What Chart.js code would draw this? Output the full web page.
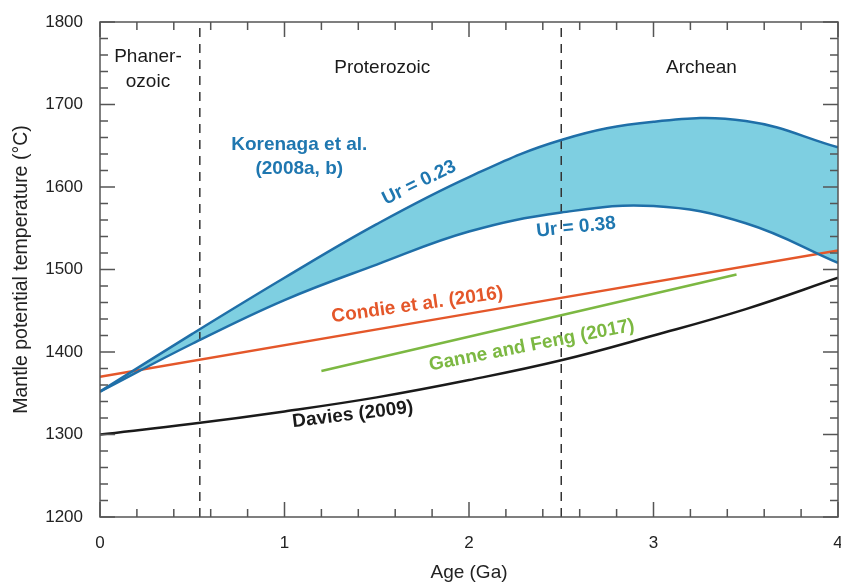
<!DOCTYPE html>
<html lang="en">
<head>
  <meta charset="UTF-8" />
  <title>Mantle potential temperature</title>
  <script src="https://cdn.jsdelivr.net/npm/chart.js"></script>
  <style>
    body { margin: 0; background: #fff; }
    #wrap { width: 841px; height: 585px; }
  </style>
</head>
<body>
  <div id="wrap"><canvas id="chart" width="841" height="585"></canvas></div>

  <script>
    // Age (Ga) / temperature (°C) pairs
    const korenagaUpperAge  = [0, 0.5, 1, 1.5, 2, 2.5, 3, 3.5, 4];
    const korenagaUpperTemp = [1352, 1422, 1490, 1555, 1612, 1657, 1679, 1680, 1648];
    const korenagaLowerAge  = [0, 0.5, 1, 1.5, 2, 2.5, 3, 3.5, 4];
    const korenagaLowerTemp = [1352, 1410, 1463, 1506, 1546, 1569, 1577, 1556, 1508];
    const condieAge  = [0, 4];
    const condieTemp = [1370, 1523];
    const ganneAge  = [1.2, 3.45];
    const ganneTemp = [1377, 1494];
    const daviesAge  = [0, 0.5, 1, 1.5, 2, 2.5, 3, 3.5, 4];
    const daviesTemp = [1300, 1313, 1328, 1345, 1366, 1390, 1420, 1452, 1490];
    const eonBoundaries = [0.541, 2.5];
    const xTicks = [0, 1, 2, 3, 4];
    const yTicks = [1200, 1300, 1400, 1500, 1600, 1700, 1800];

    const pts = (xs, ys) => xs.map((x, i) => ({ x: x, y: ys[i] }));

    // labels in data coordinates
    const notes = [
      { t: 'Phaner-', x: 0.26, y: 1758, c: '#1a1a1a', b: false, r: 0 },
      { t: 'ozoic', x: 0.26, y: 1727, c: '#1a1a1a', b: false, r: 0 },
      { t: 'Proterozoic', x: 1.53, y: 1745, c: '#1a1a1a', b: false, r: 0 },
      { t: 'Archean', x: 3.26, y: 1745, c: '#1a1a1a', b: false, r: 0 },
      { t: 'Korenaga et al.', x: 1.08, y: 1651, c: '#1f77b0', b: true, r: 0 },
      { t: '(2008a, b)', x: 1.08, y: 1622, c: '#1f77b0', b: true, r: 0 },
      { t: 'Ur = 0.23', x: 1.73, y: 1605, c: '#1f77b0', b: true, r: -26 },
      { t: 'Ur = 0.38', x: 2.58, y: 1551, c: '#1f77b0', b: true, r: -6 },
      { t: 'Condie et al. (2016)', x: 1.72, y: 1457, c: '#e4572a', b: true, r: -8 },
      { t: 'Ganne and Feng (2017)', x: 2.34, y: 1408, c: '#7cb842', b: true, r: -11 },
      { t: 'Davies (2009)', x: 1.37, y: 1324, c: '#1a1a1a', b: true, r: -7 }
    ];

    const FONT = '"Liberation Sans", Arial, sans-serif';

    const framePlugin = {
      id: 'frame',
      afterDraw(chart) {
        const ctx = chart.ctx;
        const a = chart.chartArea;
        const xs = chart.scales.x, ys = chart.scales.y;
        ctx.save();
        ctx.strokeStyle = '#555';
        ctx.lineWidth = 1.5;
        ctx.strokeRect(a.left, a.top, a.right - a.left, a.bottom - a.top);
        ctx.beginPath();
        for (let i = 0; i <= 20; i++) {
          const v = i * 0.2;
          const px = xs.getPixelForValue(v);
          const len = i % 5 === 0 ? 15 : 8;
          ctx.moveTo(px, a.bottom); ctx.lineTo(px, a.bottom - len);
          ctx.moveTo(px, a.top); ctx.lineTo(px, a.top + len);
        }
        for (let i = 0; i <= 30; i++) {
          const v = 1200 + i * 20;
          const py = ys.getPixelForValue(v);
          const len = i % 5 === 0 ? 15 : 8;
          ctx.moveTo(a.left, py); ctx.lineTo(a.left + len, py);
          ctx.moveTo(a.right, py); ctx.lineTo(a.right - len, py);
        }
        ctx.stroke();

        ctx.textAlign = 'center';
        ctx.textBaseline = 'middle';
        notes.forEach(n => {
          ctx.save();
          ctx.translate(xs.getPixelForValue(n.x), ys.getPixelForValue(n.y));
          ctx.rotate(n.r * Math.PI / 180);
          ctx.fillStyle = n.c;
          ctx.font = (n.b ? 'bold ' : '') + '19px ' + FONT;
          ctx.fillText(n.t, 0, 0);
          ctx.restore();
        });
        ctx.restore();
      }
    };

    const line = (data, color, extra) => Object.assign({
      data: data,
      borderColor: color,
      borderWidth: 2.5,
      pointRadius: 0,
      fill: false,
      tension: 0.4
    }, extra || {});

    const datasets = [
      line(pts(korenagaUpperAge, korenagaUpperTemp), '#1f6fa8'),
      line(pts(korenagaLowerAge, korenagaLowerTemp), '#1f6fa8', { fill: '-1', backgroundColor: '#7ecfe1' }),
      line(pts(condieAge, condieTemp), '#e4572a'),
      line(pts(ganneAge, ganneTemp), '#7cb842'),
      line(pts(daviesAge, daviesTemp), '#1a1a1a')
    ];
    eonBoundaries.forEach(b => {
      datasets.push(line([{ x: b, y: 1200 }, { x: b, y: 1800 }], '#333', { borderWidth: 1.5, borderDash: [9, 7], tension: 0 }));
    });

    const noPad = s => { s.paddingLeft = 0; s.paddingRight = 0; s.paddingTop = 0; s.paddingBottom = 0; };

    new Chart(document.getElementById('chart'), {
      type: 'line',
      data: { datasets: datasets },
      options: {
        responsive: false,
        animation: false,
        layout: { autoPadding: false, padding: { top: 22, right: 3, left: 0, bottom: 0 } },
        plugins: {
          legend: { display: false },
          tooltip: { enabled: false },
          filler: { drawTime: 'beforeDatasetsDraw' }
        },
        scales: {
          x: {
            type: 'linear',
            min: 0, max: 4,
            afterFit: s => { s.height = 68; noPad(s); },
            afterBuildTicks: s => { s.ticks = xTicks.map(v => ({ value: v })); },
            grid: { display: false, drawTicks: false },
            border: { display: false },
            ticks: { padding: 16, color: '#222', font: { size: 17, family: FONT }, callback: v => String(v) },
            title: { display: true, text: 'Age (Ga)', color: '#222', padding: { top: 0, bottom: 1 }, font: { size: 19, family: FONT } }
          },
          y: {
            min: 1200, max: 1800,
            afterFit: s => { s.width = 100; noPad(s); },
            afterBuildTicks: s => { s.ticks = yTicks.map(v => ({ value: v })); },
            grid: { display: false, drawTicks: false },
            border: { display: false },
            ticks: { padding: 17, color: '#222', font: { size: 17, family: FONT }, callback: v => String(v) },
            title: { display: true, text: 'Mantle potential temperature (°C)', color: '#222', padding: { top: 10, bottom: 0 }, font: { size: 19.5, family: FONT } }
          }
        }
      },
      plugins: [framePlugin]
    });
  </script>
</body>
</html>
